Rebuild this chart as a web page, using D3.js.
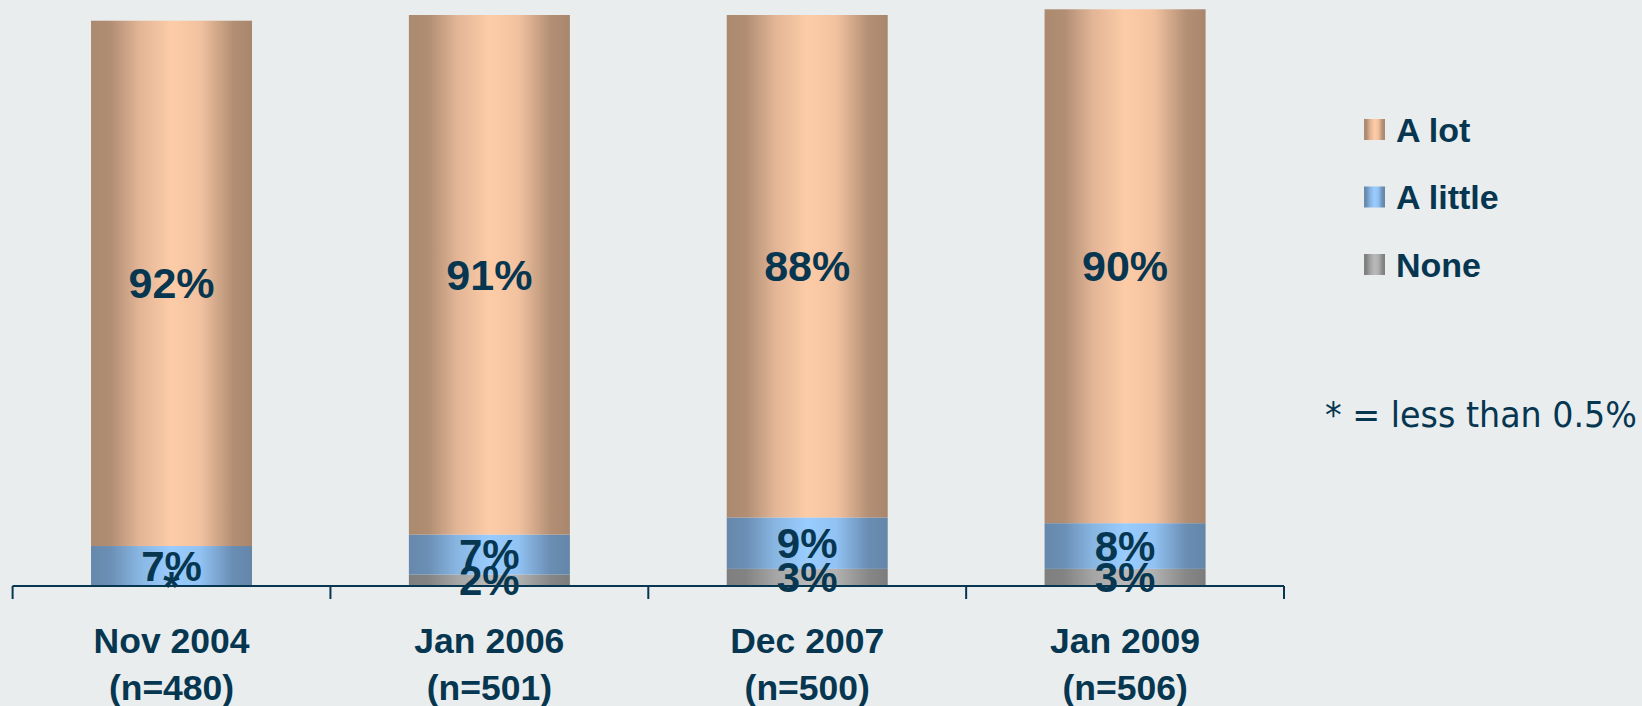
<!DOCTYPE html>
<html><head><meta charset="utf-8">
<script src="https://cdn.jsdelivr.net/npm/d3@7"></script>
<style>
html,body{margin:0;padding:0;background:#e9edee;}
svg{display:block;}
</style></head>
<body>
<svg id="chart" width="1642" height="706"></svg>
<script>
// ---- data ----
const categories = ["Nov 2004", "Jan 2006", "Dec 2007", "Jan 2009"];
const sampleSizes = ["(n=480)", "(n=501)", "(n=500)", "(n=506)"];
const seriesNames = ["None", "A little", "A lot"]; // stacked bottom -> top
const noneValues = [0, 2, 3, 3];
const aLittleValues = [7, 7, 9, 8];
const aLotValues = [92, 91, 88, 90];
const noneLabels = ["*", "2%", "3%", "3%"];
const legendOrder = ["A lot", "A little", "None"];
const footnote = "* = less than 0.5%";

// ---- setup ----
const svg = d3.select("#chart");
const W = 1642, H = 706;
const textColor = "#063650";
svg.append("rect").attr("width", W).attr("height", H).attr("fill", "#e9edee");

const x = d3.scaleBand().domain(categories).range([12.6, 1284]).paddingInner(0.4935).paddingOuter(0.4935 / 2);
const y = d3.scaleLinear().domain([0, 100]).range([586, 15]);

const defs = svg.append("defs");
const gradDefs = {
  "A lot": [["0%", "#ab8a70"], ["12%", "#b08d73"], ["30%", "#e2b596"], ["50%", "#fdcca7"], ["68%", "#f2c2a0"], ["88%", "#b38f74"], ["100%", "#a8866d"]],
  "A little": [["0%", "#6688ac"], ["12%", "#6b8fb5"], ["30%", "#88b6e2"], ["50%", "#99ccff"], ["68%", "#91c2f2"], ["88%", "#6a8db3"], ["100%", "#6386a9"]],
  "None": [["0%", "#7f7f7f"], ["12%", "#838383"], ["30%", "#a5a5a5"], ["50%", "#b9b9b9"], ["68%", "#b1b1b1"], ["88%", "#878787"], ["100%", "#7c7c7c"]]
};
const gradId = n => "g_" + n.replace(/\s+/g, "_");
Object.entries(gradDefs).forEach(([name, stops]) => {
  const g = defs.append("linearGradient").attr("id", gradId(name)).attr("x1", "0").attr("x2", "1").attr("y1", "0").attr("y2", "0");
  stops.forEach(s => g.append("stop").attr("offset", s[0]).attr("stop-color", s[1]));
});

const table = categories.map((c, i) => ({ cat: c, "None": noneValues[i], "A little": aLittleValues[i], "A lot": aLotValues[i] }));
const stacked = d3.stack().keys(seriesNames)(table);

const layers = svg.append("g").selectAll("g").data(stacked).join("g")
  .attr("fill", d => `url(#${gradId(d.key)})`);
layers.selectAll("rect").data(d => d).join("rect")
  .attr("x", d => x(d.data.cat))
  .attr("width", x.bandwidth())
  .attr("y", d => y(d[1]))
  .attr("height", d => y(d[0]) - y(d[1]));

// value labels
const labelG = svg.append("g").attr("font-family", "'Liberation Sans', Arial, sans-serif")
  .attr("font-weight", "bold").attr("fill", textColor).attr("text-anchor", "middle");
stacked.forEach(layer => {
  layer.forEach((d, i) => {
    let txt;
    if (layer.key === "None") txt = noneLabels[i];
    else txt = (layer.key === "A little" ? aLittleValues[i] : aLotValues[i]) + "%";
    labelG.append("text")
      .attr("x", x(d.data.cat) + x.bandwidth() / 2)
      .attr("y", (y(d[0]) + y(d[1])) / 2)
      .attr("dy", "0.35em")
      .attr("font-size", layer.key === "A lot" ? 43 : 42)
      .text(txt);
  });
});

// axis
const axisG = svg.append("g").attr("stroke", textColor).attr("stroke-width", 2);
axisG.append("line").attr("x1", x.range()[0]).attr("x2", x.range()[1]).attr("y1", y(0)).attr("y2", y(0));
const step = x.step();
const bounds = d3.range(categories.length + 1).map(i => x.range()[0] + i * step);
axisG.selectAll("line.tick").data(bounds).join("line").attr("class", "tick")
  .attr("x1", d => d).attr("x2", d => d).attr("y1", y(0)).attr("y2", y(0) + 13);

// category labels
const catG = svg.append("g").attr("font-family", "'Liberation Sans', Arial, sans-serif")
  .attr("font-weight", "bold").attr("font-size", 35.5).attr("fill", textColor).attr("text-anchor", "middle");
categories.forEach((c, i) => {
  const cx = x(c) + x.bandwidth() / 2;
  catG.append("text").attr("x", cx).attr("y", 653).text(c);
  catG.append("text").attr("x", cx).attr("y", 700).text(sampleSizes[i]);
});

// legend
const leg = svg.append("g").attr("transform", "translate(1364,119)");
legendOrder.forEach((name, i) => {
  const g = leg.append("g").attr("transform", `translate(0,${i * 67.5})`);
  g.append("rect").attr("width", 21).attr("height", 21).attr("fill", `url(#${gradId(name)})`);
  g.append("text").attr("x", 32).attr("y", 10.5).attr("dy", "0.36em")
    .attr("font-family", "'Liberation Sans', Arial, sans-serif").attr("font-weight", "bold")
    .attr("font-size", 34).attr("fill", textColor).text(name);
});

// footnote
svg.append("text").attr("x", 1325).attr("y", 427)
  .attr("font-family", "'DejaVu Sans', Verdana, sans-serif").attr("font-size", 36)
  .attr("fill", textColor).attr("textLength", 312).attr("lengthAdjust", "spacingAndGlyphs")
  .text(footnote);
</script>
</body></html>
